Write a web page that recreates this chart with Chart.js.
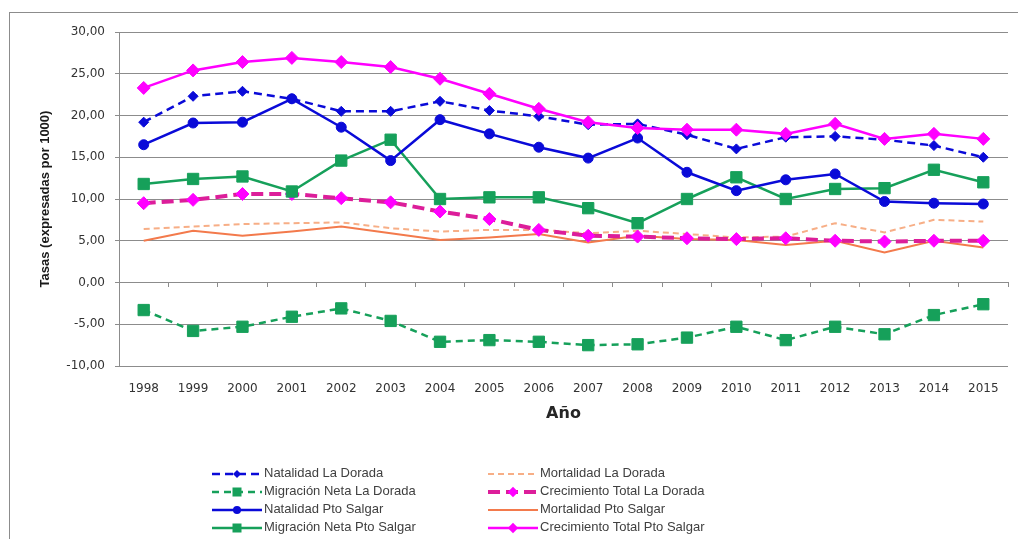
<!DOCTYPE html>
<html lang="es">
<head>
    <meta charset="UTF-8">
    <title>Tasas La Dorada y Pto Salgar</title>
    <script src="https://cdn.jsdelivr.net/npm/chart.js"></script>
    <style>
        html, body {
            margin: 0;
            padding: 0;
            background: #fff;
            overflow: hidden;
        }
        .wrap {
            position: relative;
            width: 1018px;
            height: 539px;
        }
        .frame {
            position: absolute;
            left: 9px;
            top: 12px;
            width: 1100px;
            height: 600px;
            border-left: 1px solid #8c8c8c;
            border-top: 1px solid #8c8c8c;
        }
        canvas {
            position: absolute;
            left: 0;
            top: 0;
        }
        .legend {
            position: absolute;
            left: 0;
            top: 464px;
            font-family: "Liberation Sans", Arial, sans-serif;
            font-size: 13px;
            color: #404040;
        }
        .legend-item {
            position: absolute;
            height: 18px;
            line-height: 18px;
            white-space: nowrap;
        }
        .legend-item svg {
            vertical-align: middle;
            margin-right: 2px;
        }
    </style>
</head>
<body>
<div class="wrap">
    <div class="frame"></div>
    <canvas id="rateChart" width="1018" height="539"></canvas>
    <div class="legend" id="legend"></div>
</div>

<script>
    const years = ['1998', '1999', '2000', '2001', '2002', '2003', '2004', '2005', '2006',
        '2007', '2008', '2009', '2010', '2011', '2012', '2013', '2014', '2015'];

    const natalidadLaDorada = [19.2, 22.3, 22.9, 22.0, 20.5, 20.5, 21.7, 20.6, 19.9, 18.9, 19.0, 17.7, 16.0, 17.4, 17.5, 17.1, 16.4, 15.0];
    const migracionLaDorada = [-3.3, -5.8, -5.3, -4.1, -3.1, -4.6, -7.1, -6.9, -7.1, -7.5, -7.4, -6.6, -5.3, -6.9, -5.3, -6.2, -3.9, -2.6];
    const natalidadPtoSalgar = [16.5, 19.1, 19.2, 22.0, 18.6, 14.6, 19.5, 17.8, 16.2, 14.9, 17.3, 13.2, 11.0, 12.3, 13.0, 9.7, 9.5, 9.4];
    const migracionPtoSalgar = [11.8, 12.4, 12.7, 10.9, 14.6, 17.1, 10.0, 10.2, 10.2, 8.9, 7.1, 10.0, 12.6, 10.0, 11.2, 11.3, 13.5, 12.0];
    const mortalidadLaDorada = [6.4, 6.7, 7.0, 7.1, 7.2, 6.5, 6.1, 6.3, 6.3, 5.9, 6.2, 5.8, 5.4, 5.5, 7.1, 6.0, 7.5, 7.3];
    const crecimientoLaDorada = [9.5, 9.9, 10.6, 10.6, 10.1, 9.6, 8.5, 7.6, 6.3, 5.6, 5.5, 5.3, 5.2, 5.3, 5.0, 4.9, 5.0, 5.0];
    const mortalidadPtoSalgar = [5.0, 6.2, 5.6, 6.1, 6.7, 5.9, 5.1, 5.4, 5.8, 4.8, 5.6, 5.2, 5.1, 4.5, 5.0, 3.6, 5.0, 4.2];
    const crecimientoPtoSalgar = [23.3, 25.4, 26.4, 26.9, 26.4, 25.8, 24.4, 22.6, 20.8, 19.2, 18.5, 18.3, 18.3, 17.8, 19.0, 17.2, 17.8, 17.2];

    // series styles, in legend order (column 1 then column 2)
    const series = [
        { label: 'Natalidad La Dorada', data: natalidadLaDorada, color: '#0a0ad8', pointColor: '#0a0ad8', dash: [8, 5], width: 2.5, point: 'rectRot', radius: 5 },
        { label: 'Migración Neta La Dorada', data: migracionLaDorada, color: '#16a05a', pointColor: '#16a05a', dash: [7, 5], width: 2.5, point: 'rect', radius: 8 },
        { label: 'Natalidad Pto Salgar', data: natalidadPtoSalgar, color: '#0a0ad8', pointColor: '#0a0ad8', dash: [], width: 2.5, point: 'circle', radius: 5 },
        { label: 'Migración Neta Pto Salgar', data: migracionPtoSalgar, color: '#16a05a', pointColor: '#16a05a', dash: [], width: 2.5, point: 'rect', radius: 8 },
        { label: 'Mortalidad La Dorada', data: mortalidadLaDorada, color: '#f7ae86', pointColor: '#f7ae86', dash: [6, 4], width: 2, point: false, radius: 0 },
        { label: 'Crecimiento Total La Dorada', data: crecimientoLaDorada, color: '#dc1e9a', pointColor: '#ff00ff', dash: [12, 6], width: 4, point: 'rectRot', radius: 6.5 },
        { label: 'Mortalidad Pto Salgar', data: mortalidadPtoSalgar, color: '#f37a4c', pointColor: '#f37a4c', dash: [], width: 2, point: false, radius: 0 },
        { label: 'Crecimiento Total Pto Salgar', data: crecimientoPtoSalgar, color: '#ff00ff', pointColor: '#ff00ff', dash: [], width: 2.5, point: 'rectRot', radius: 6.5 }
    ];

    // draw order (first = on top)
    const drawOrder = [7, 0, 2, 3, 5, 1, 4, 6];

    const datasets = series.map((s, i) => ({
        label: s.label,
        data: s.data,
        borderColor: s.color,
        backgroundColor: s.pointColor,
        borderWidth: s.width,
        borderDash: s.dash,
        pointStyle: s.point,
        pointRadius: s.radius,
        pointBackgroundColor: s.pointColor,
        pointBorderColor: s.pointColor,
        pointBorderWidth: 1,
        tension: 0,
        order: drawOrder.indexOf(i),
        xAxisID: 'x',
        yAxisID: 'y'
    }));

    const ctx = document.getElementById('rateChart').getContext('2d');
    const rateChart = new Chart(ctx, {
        type: 'line',
        data: {
            labels: years,
            datasets: datasets
        },
        options: {
            responsive: false,
            animation: false,
            layout: {
                padding: { left: 0, right: 10, top: 32, bottom: 113 }
            },
            plugins: {
                legend: { display: false },
                tooltip: { enabled: false }
            },
            scales: {
                x: {
                    type: 'category',
                    position: 'bottom',
                    offset: true,
                    afterFit: (scale) => { scale.height = 60; },
                    grid: { display: false, drawTicks: false },
                    border: { display: false },
                    ticks: {
                        padding: 16,
                        color: '#333',
                        font: { family: 'DejaVu Sans', size: 12 },
                        maxRotation: 0,
                        autoSkip: false
                    },
                    title: {
                        display: true,
                        text: 'Año',
                        color: '#262626',
                        font: { family: 'DejaVu Sans', size: 16, weight: 'bold' },
                        padding: { top: 0, bottom: 3 }
                    }
                },
                xZero: {
                    type: 'category',
                    position: { y: 0 },
                    offset: true,
                    grid: {
                        offset: true,
                        drawOnChartArea: false,
                        drawTicks: true,
                        tickLength: 4,
                        color: '#8c8c8c'
                    },
                    border: { display: true, color: '#8c8c8c', width: 1 },
                    ticks: { display: false }
                },
                y: {
                    min: -10,
                    max: 30,
                    afterFit: (scale) => { scale.width = 119; },
                    grid: {
                        color: '#8c8c8c',
                        lineWidth: 1,
                        drawTicks: true,
                        tickLength: 4
                    },
                    border: { display: true, color: '#8c8c8c', width: 1 },
                    ticks: {
                        stepSize: 5,
                        padding: 10,
                        color: '#333',
                        font: { family: 'DejaVu Sans', size: 12 },
                        callback: (v) => v.toFixed(2).replace('.', ',')
                    },
                    title: {
                        display: true,
                        text: 'Tasas (expresadas por 1000)',
                        color: '#1a1a1a',
                        font: { family: 'Liberation Sans', size: 13, weight: 'bold' },
                        padding: { top: 38, bottom: 0 }
                    }
                }
            }
        }
    });

    // html legend in two columns of four
    function buildLegend() {
        const box = document.getElementById('legend');
        const colX = [212, 488];
        series.forEach((s, i) => {
            const col = i < 4 ? 0 : 1;
            const row = i % 4;
            const item = document.createElement('div');
            item.className = 'legend-item';
            item.style.left = colX[col] + 'px';
            item.style.top = (row * 18) + 'px';

            let marker = '';
            const cx = 25, cy = 6;
            if (s.point === 'rectRot') {
                const r = s.radius * 0.8;
                marker = `<polygon points="${cx},${cy - r} ${cx + r},${cy} ${cx},${cy + r} ${cx - r},${cy}" fill="${s.pointColor}"/>`;
            } else if (s.point === 'circle') {
                marker = `<circle cx="${cx}" cy="${cy}" r="${s.radius * 0.8}" fill="${s.pointColor}"/>`;
            } else if (s.point === 'rect') {
                marker = `<rect x="${cx - 4.5}" y="${cy - 4.5}" width="9" height="9" fill="${s.pointColor}"/>`;
            }
            const dash = s.dash.length ? `stroke-dasharray="${s.dash.join(' ')}"` : '';
            item.innerHTML = `<svg width="50" height="12"><line x1="0" y1="${cy}" x2="50" y2="${cy}" stroke="${s.color}" stroke-width="${s.width}" ${dash}/>${marker}</svg>${s.label}`;
            box.appendChild(item);
        });
    }

    buildLegend();
</script>
</body>
</html>
